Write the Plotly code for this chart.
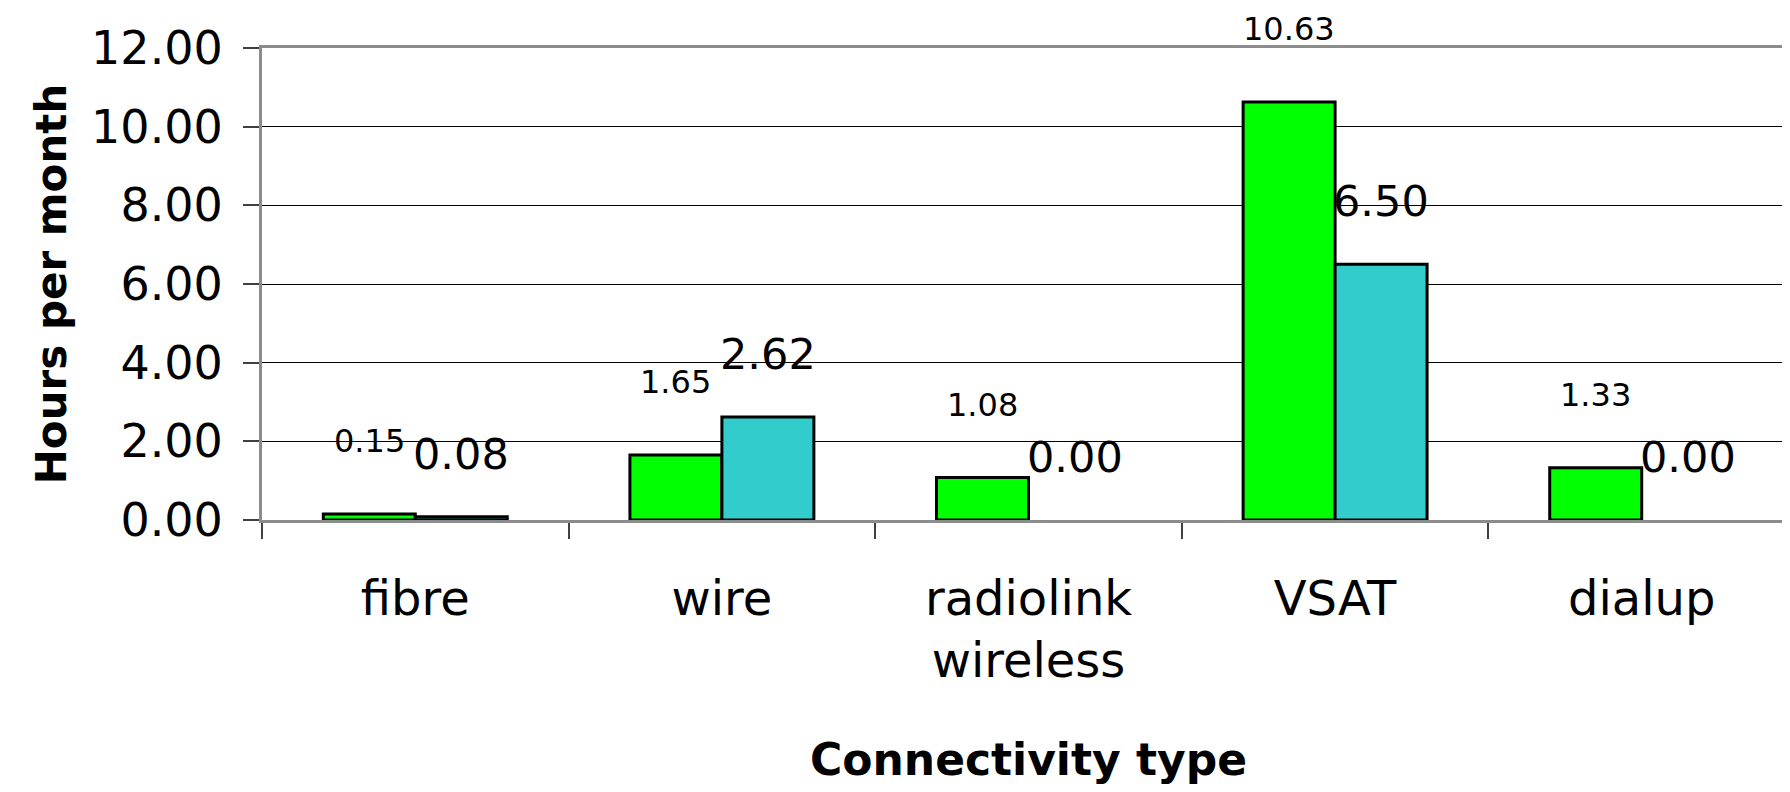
import plotly.graph_objects as go

categories = ["fibre", "wire", "radiolink<br>wireless", "VSAT", "dialup"]
series_a = [0.15, 1.65, 1.08, 10.63, 1.33]
series_b = [0.08, 2.62, 0.00, 6.50, 0.00]
y_ticks = [0, 2, 4, 6, 8, 10, 12]

FONT = "DejaVu Sans"
GREEN = "#00FF00"
CYAN = "#33CCCC"


def outline_widths(values):
    return [0 if v == 0 else 3 for v in values]


fig = go.Figure()
fig.add_trace(go.Bar(x=categories, y=series_a, name="A",
                     marker=dict(color=GREEN,
                                 line=dict(color="black", width=outline_widths(series_a)))))
fig.add_trace(go.Bar(x=categories, y=series_b, name="B",
                     marker=dict(color=CYAN,
                                 line=dict(color="black", width=outline_widths(series_b)))))

# data labels (Excel-like placement above each bar)
bar_px = 92
for c, v in zip(categories, series_a):
    fig.add_annotation(x=c, y=v, xref="x", yref="y", text=f"{v:.2f}",
                       showarrow=False, xshift=-bar_px / 2, yshift=73,
                       font=dict(family=FONT, size=32, color="black"))
for c, v in zip(categories, series_b):
    fig.add_annotation(x=c, y=v, xref="x", yref="y", text=f"{v:.2f}",
                       showarrow=False, xshift=bar_px / 2, yshift=63,
                       font=dict(family=FONT, size=43, color="black"))

fig.update_layout(
    width=1790, height=792,
    margin=dict(l=254, r=3, t=40, b=280),
    paper_bgcolor="white", plot_bgcolor="white",
    barmode="group", bargap=0.4, bargroupgap=0,
    showlegend=False,
    font=dict(family=FONT, color="black"),
)
fig.update_xaxes(
    type="category", automargin=False,
    tickfont=dict(family=FONT, size=48),
    showline=True, linecolor="#8C8C8C", linewidth=3, mirror=True,
    ticks="outside", tickson="boundaries", ticklen=16, tickcolor="#404040", tickwidth=2,
    ticklabelstandoff=34,
    showgrid=False,
    title=dict(text="<b>Connectivity type</b>", font=dict(family=FONT, size=44), standoff=58),
)
fig.update_yaxes(
    range=[0, 12], tickvals=y_ticks, tickformat=".2f", automargin=False,
    tickfont=dict(family=FONT, size=46),
    showline=True, linecolor="#8C8C8C", linewidth=3, mirror=True,
    ticks="outside", ticklen=16, tickcolor="#404040", tickwidth=2,
    ticklabelstandoff=11,
    showgrid=True, gridcolor="black", gridwidth=1,
    zeroline=False,
    title=dict(text="<b>Hours per month</b>", font=dict(family=FONT, size=42), standoff=12),
)

fig.write_html("out.html")
